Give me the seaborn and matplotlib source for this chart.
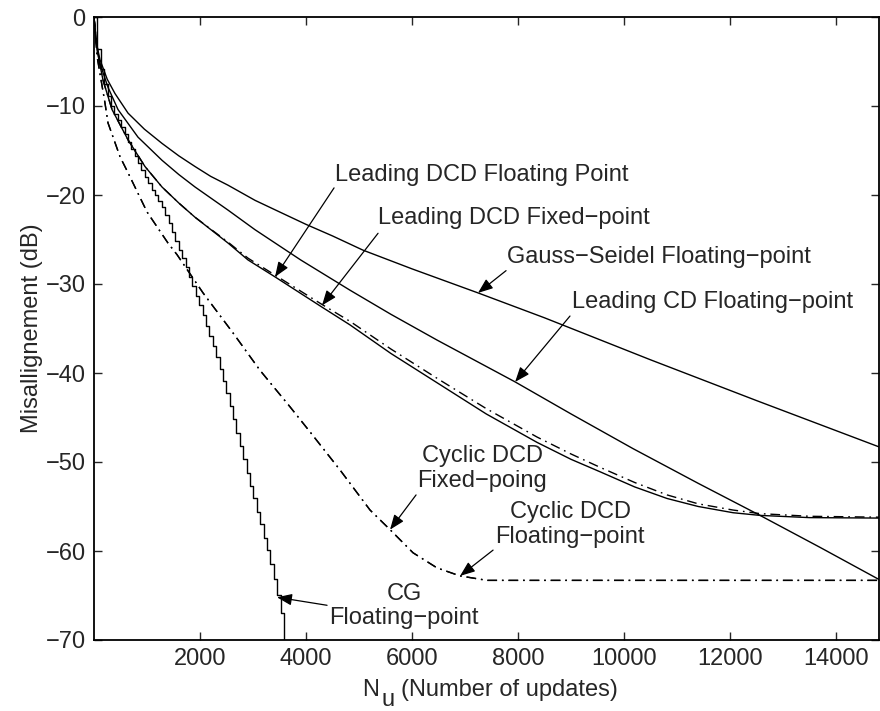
import numpy as np
import pandas as pd
import matplotlib
matplotlib.use("Agg")
import matplotlib.pyplot as plt
import seaborn as sns

# ---------------- data ----------------
gs_x = [0, 30, 113, 250, 396, 642, 950, 1283, 1600, 1906, 2200, 2529, 3038, 3500, 4000, 4500,
        5076, 6000, 7245, 8500, 10492, 12500, 14810]
gs_y = [0, -2.5, -4.8, -7.0, -8.6, -10.8, -12.6, -14.2, -15.6, -16.8, -17.9, -18.9, -20.6, -21.9,
        -23.3, -24.6, -26.2, -28.3, -31.0, -33.8, -38.5, -43.1, -48.3]

lcd_x = [0, 40, 100, 264, 453, 830, 1283, 1600, 1906, 2529, 3038, 3900, 4831, 5600, 6472, 7945,
         9000, 10170, 11400, 12566, 13700, 14810]
lcd_y = [0, -2.5, -5.0, -7.9, -10.4, -13.5, -16.1, -17.7, -19.1, -21.7, -23.9, -27.3, -30.7, -33.4,
         -36.3, -41.0, -44.6, -48.5, -52.4, -56.0, -59.6, -63.2]

ldcd_fl_x = [0, 60, 170, 340, 642, 962, 1283, 1600, 1906, 2529, 2906, 3415, 4302, 4831, 5600, 6500,
             7400, 8360, 9000, 9548, 10200, 10812, 11400, 12058, 12566, 13500, 14810]
ldcd_fl_y = [0, -3.8, -7.1, -10.4, -13.8, -16.8, -19.1, -20.9, -22.5, -25.4, -27.3, -29.2, -32.6,
             -34.6, -37.8, -41.2, -44.6, -47.8, -49.7, -51.1, -52.8, -54.1, -55.0, -55.7, -56.0,
             -56.25, -56.3]

ldcd_fx_x = [0, 60, 170, 340, 642, 962, 1283, 1600, 1906, 2529, 2906, 3415, 4302, 4831, 5600, 6500,
             7400, 8360, 9000, 9548, 10200, 10812, 11400, 12058, 12566, 13500, 14810]
ldcd_fx_y = [0, -3.8, -7.1, -10.4, -13.8, -16.8, -19.1, -20.9, -22.5, -25.3, -27.1, -29.0, -32.3,
             -34.2, -37.3, -40.7, -44.0, -47.2, -49.1, -50.6, -52.3, -53.7, -54.7, -55.4, -55.8,
             -56.1, -56.2]

cyc_x = [0, 60, 208, 264, 491, 642, 1000, 1396, 1566, 2057, 2623, 3132, 3698, 4100, 4642, 5208,
         5585, 6019, 6472, 6906, 7415, 14810]
cyc_fl_y = [0, -4.5, -9.7, -11.9, -15.7, -17.5, -21.9, -25.4, -26.7, -31.0, -35.5, -39.7, -43.8,
            -46.8, -50.9, -55.4, -57.6, -60.2, -61.9, -62.8, -63.3, -63.3]
cyc_fx_y = [0, -4.5, -9.7, -11.9, -15.7, -17.5, -21.9, -25.4, -26.7, -31.0, -35.5, -39.7, -43.8,
            -46.8, -50.9, -55.4, -57.6, -60.2, -61.9, -62.8, -63.3, -63.3]

cg_x = [0, 64, 128, 192, 256, 320, 384, 448, 512, 576, 640, 704, 768, 832, 896, 960, 1024, 1088,
        1152, 1216, 1280, 1344, 1408, 1472, 1536, 1600, 1664, 1728, 1792, 1856, 1920, 1984, 2048,
        2112, 2176, 2240, 2304, 2368, 2432, 2496, 2560, 2624, 2688, 2752, 2816, 2880, 2944, 3008,
        3072, 3136, 3200, 3264, 3328, 3392, 3456, 3520, 3584]
cg_y = [0, -3.6, -5.8, -7.5, -8.9, -10.0, -10.9, -11.6, -12.4, -13.2, -14.0, -14.8, -15.6, -16.4,
        -17.2, -18.0, -18.7, -19.4, -20.0, -20.7, -21.4, -22.3, -23.2, -24.2, -25.2, -26.2, -27.1,
        -28.1, -29.2, -30.2, -31.3, -32.4, -33.5, -34.7, -35.8, -37.0, -38.2, -39.5, -40.9, -42.3,
        -43.7, -45.2, -46.7, -48.2, -49.7, -51.2, -52.7, -54.1, -55.6, -57.0, -58.5, -59.9, -61.5,
        -63.2, -64.9, -67.0, -70.5]

x_ticks = [2000, 4000, 6000, 8000, 10000, 12000, 14000]
y_ticks = [0, -10, -20, -30, -40, -50, -60, -70]

labels = {
    "ldcd_fl": "Leading DCD Floating Point",
    "ldcd_fx": "Leading DCD Fixed\u2212point",
    "gs": "Gauss\u2212Seidel Floating\u2212point",
    "lcd": "Leading CD Floating\u2212point",
    "cyc_fx": "Cyclic DCD\nFixed\u2212poing",
    "cyc_fl": "Cyclic DCD\nFloating\u2212point",
    "cg": "CG\nFloating\u2212point",
}

# ---------------- style ----------------
sns.set_style("ticks")
plt.rcParams["font.family"] = ["Liberation Sans", "DejaVu Sans"]

fs = 17
W, H = 880, 711
fig = plt.figure(figsize=(W / 100, H / 100), dpi=100)
ax = fig.add_axes([94 / W, 1 - 640 / H, (879 - 94) / W, (640 - 17) / H])

lw = 1.0
dashdot = (0, (7, 3.5, 1.2, 3.5))

def draw(xs, ys, ls, **kw):
    df = pd.DataFrame({"x": xs, "y": ys})
    sns.lineplot(data=df, x="x", y="y", ax=ax, color="black", linewidth=lw,
                 linestyle=ls, sort=False, estimator=None, **kw)

draw(gs_x, gs_y, "-")
draw(lcd_x, lcd_y, "-")
draw(ldcd_fl_x, ldcd_fl_y, "-")
draw(ldcd_fx_x, ldcd_fx_y, dashdot)
draw(cyc_x, cyc_fl_y, dashdot)
draw(cyc_x, cyc_fx_y, dashdot)
draw(cg_x, cg_y, "-", drawstyle="steps-post")

ax.set_xlim(0, 14810)
ax.set_ylim(-70, 0)
ax.set_xticks(x_ticks)
ax.set_yticks(y_ticks)
ax.set_xticklabels([str(t) for t in x_ticks], fontsize=fs)
ax.set_yticklabels([("\u2212%d" % -t) if t < 0 else "0" for t in y_ticks], fontsize=fs)
ax.tick_params(direction="in", length=6, width=1.0, top=True, right=True, pad=6)
for s in ax.spines.values():
    s.set_visible(True)
    s.set_linewidth(1.3)
    s.set_color("black")

# x label with a MATLAB-style full-size, dropped subscript
ax.set_xlabel("")
fig.text(362 / W, 1 - 696 / H, "N", fontsize=fs, va="baseline", ha="left")
fig.text(381 / W, 1 - 706 / H, "u", fontsize=fs, va="baseline", ha="left")
fig.text(401 / W, 1 - 696 / H, "(Number of updates)", fontsize=fs, va="baseline", ha="left")
ax.set_ylabel("Misallignement (dB)", fontsize=fs, labelpad=2)

ap = dict(arrowstyle="-|>,head_length=0.9,head_width=0.35", color="black", lw=0.9,
          shrinkA=0, shrinkB=0)

def note(text, tip, start, txy, ha="left"):
    ax.annotate("", xy=tip, xytext=start, arrowprops=ap)
    ax.text(txy[0], txy[1], text, fontsize=fs, ha=ha, va="center", linespacing=1.15)

note(labels["ldcd_fl"], (3415, -29.2), (4529, -19.2), (4548, -17.75))
note(labels["ldcd_fx"], (4302, -32.4), (5359, -24.3), (5359, -22.6))
note(labels["gs"], (7245, -31.0), (7774, -28.5), (7793, -27.0))
note(labels["lcd"], (7945, -41.0), (8980, -33.6), (9018, -32.0))
note(labels["cyc_fx"], (5585, -57.6), (6076, -53.7), (7321, -50.7), ha="center")
note(labels["cyc_fl"], (6906, -62.8), (7529, -59.9), (8982, -57.0), ha="center")
note(labels["cg"], (3453, -65.2), (4397, -66.1), (5850, -66.2), ha="center")

fig.savefig("out.png", dpi=100)
